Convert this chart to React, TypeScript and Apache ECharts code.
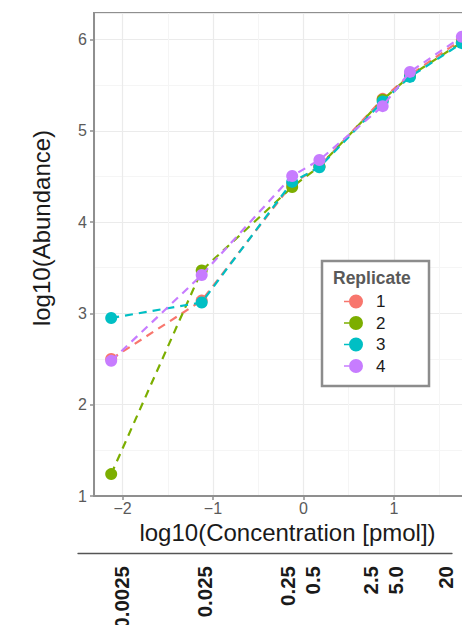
import React, { useEffect, useRef } from "react";
import * as echarts from "echarts";

// ---- data ----
const REPLICATES = ["1", "2", "3", "4"];
const COLORS = ["#F8766D", "#7CAE00", "#00BFC4", "#C77CFF"];
// log10 concentration positions of the points
const X_LOG = [-2.125, -1.125, -0.125, 0.176, 0.875, 1.176, 1.75];
const REP1 = [2.5, 3.14, 4.42, 4.61, 5.35, 5.61, 6.0];
const REP2 = [1.24, 3.47, 4.385, 4.61, 5.34, 5.6, 5.97];
const REP3 = [2.95, 3.12, 4.44, 4.6, 5.32, 5.59, 5.96];
const REP4 = [2.48, 3.42, 4.505, 4.68, 5.27, 5.645, 6.03];
const SERIES_VALUES = [REP1, REP2, REP3, REP4];
// concentration labels of the strip below the chart
const CONC_LABELS = ["0.0025", "0.025", "0.25", "0.5", "2.5", "5.0", "20"];
const CONC_VALUES = [0.0025, 0.025, 0.25, 0.5, 2.5, 5, 20];

const FONT = "'Liberation Sans', Arial, Helvetica, sans-serif";
const KEY_ICON =
  "path://M0 6.2H5V7.8H0ZM5 7A7 7 0 1 0 19 7A7 7 0 1 0 5 7Z";

function minusFmt(v: number) {
  if (v < 0) return "\u2212" + Math.abs(v);
  return String(v);
}

export default function App() {
  const ref = useRef<HTMLDivElement>(null);

  useEffect(() => {
    if (!ref.current) return;
    const chart = echarts.init(ref.current, undefined, { renderer: "svg" });
    const concPos = CONC_VALUES.map((c) => Math.log10(c));

    const series = REPLICATES.map((name, i) => ({
      name,
      type: "line",
      xAxisIndex: 0,
      yAxisIndex: 0,
      data: X_LOG.map((x, j) => [x, SERIES_VALUES[i][j]]),
      symbol: "circle",
      symbolSize: 12,
      showSymbol: true,
      itemStyle: { color: COLORS[i] },
      lineStyle: { color: COLORS[i], width: 2.2, type: [8, 6] },
      silent: true,
      z: 2 + i,
    }));

    const axisGray = "#8f8f8f";

    chart.setOption({
      animation: false,
      textStyle: { fontFamily: FONT },
      grid: [
        {
          left: 94,
          top: 13,
          width: 385.5,
          height: 483,
          show: true,
          borderColor: axisGray,
          borderWidth: 2,
          backgroundColor: "transparent",
          outerBoundsMode: "none",
          containLabel: false,
        },
        {
          left: 78,
          top: 540,
          width: 374,
          height: 13,
          outerBoundsMode: "none",
          containLabel: false,
        },
      ],
      xAxis: [
        {
          type: "value",
          gridIndex: 0,
          min: -2.315,
          max: 1.945,
          splitNumber: 5,
          axisLine: { show: true, onZero: false, lineStyle: { color: axisGray, width: 2 } },
          axisTick: { show: true, length: 4, lineStyle: { color: axisGray, width: 1.5 } },
          axisLabel: {
            showMinLabel: false,
            showMaxLabel: false,
            fontSize: 16,
            color: "#5a5a5a",
            margin: 4,
            fontFamily: FONT,
            formatter: (v: number) => minusFmt(v),
          },
          splitLine: { show: true, lineStyle: { color: "#ebebeb", width: 1.2 } },
          minorTick: { show: false, splitNumber: 2 },
          minorSplitLine: { show: true, lineStyle: { color: "#f5f5f5", width: 1 } },
        },
        {
          type: "value",
          gridIndex: 1,
          min: -3.131,
          max: 1.375,
          position: "bottom",
          axisLine: { show: true, onZero: false, lineStyle: { color: "#555555", width: 1.3 } },
          axisTick: { show: false },
          splitLine: { show: false },
          axisLabel: {
            customValues: concPos,
            rotate: 90,
            fontSize: 20.5,
            fontWeight: "bold",
            color: "#1a1a1a",
            margin: 13,
            fontFamily: FONT,
            showMinLabel: true,
            showMaxLabel: true,
            hideOverlap: false,
            formatter: (v: number) => {
              let best = 0;
              let bd = Infinity;
              concPos.forEach((p, k) => {
                const d = Math.abs(p - v);
                if (d < bd) {
                  bd = d;
                  best = k;
                }
              });
              return CONC_LABELS[best];
            },
          },
        },
      ],
      yAxis: [
        {
          type: "value",
          gridIndex: 0,
          min: 1,
          max: 6.29,
          splitNumber: 5,
          axisLine: { show: true, onZero: false, lineStyle: { color: axisGray, width: 2 } },
          axisTick: { show: true, length: 4, lineStyle: { color: axisGray, width: 1.5 } },
          axisLabel: {
            showMaxLabel: false,
            fontSize: 16,
            color: "#5a5a5a",
            margin: 7,
            fontFamily: FONT,
          },
          splitLine: { show: true, lineStyle: { color: "#ebebeb", width: 1.2 } },
          minorTick: { show: false, splitNumber: 2 },
          minorSplitLine: { show: true, lineStyle: { color: "#f5f5f5", width: 1 } },
        },
        { type: "value", gridIndex: 1, min: 0, max: 1, show: false },
      ],
      legend: {
        orient: "vertical",
        left: 344,
        top: 293,
        padding: 0,
        itemWidth: 19,
        itemHeight: 14,
        itemGap: 4.5,
        selectedMode: false,
        z: 20,
        data: REPLICATES.map((n) => ({ name: n, icon: KEY_ICON })),
        textStyle: {
          fontSize: 17,
          color: "#1a1a1a",
          fontFamily: FONT,
          padding: [0, 0, 0, 8],
        },
      },
      graphic: [
        {
          type: "rect",
          z: 10,
          shape: { x: 322, y: 261, width: 107, height: 125 },
          style: { fill: "#ffffff", stroke: "#8c8c8c", lineWidth: 2.5 },
        },
        {
          type: "text",
          z: 21,
          x: 333,
          y: 277.5,
          style: {
            text: "Replicate",
            fontSize: 17.5,
            fontWeight: "bold",
            fontFamily: FONT,
            fill: "#595959",
            align: "left",
            verticalAlign: "middle",
            textAlign: "left",
            textVerticalAlign: "middle",
          },
        },
        {
          type: "text",
          z: 21,
          x: 41,
          y: 228,
          rotation: Math.PI / 2,
          style: {
            text: "log10(Abundance)",
            fontSize: 24,
            fontFamily: FONT,
            fill: "#1a1a1a",
            align: "center",
            verticalAlign: "middle",
            textAlign: "center",
            textVerticalAlign: "middle",
          },
        },
        {
          type: "text",
          z: 21,
          x: 287.5,
          y: 532,
          style: {
            text: "log10(Concentration [pmol])",
            fontSize: 24,
            fontFamily: FONT,
            fill: "#1a1a1a",
            align: "center",
            verticalAlign: "middle",
            textAlign: "center",
            textVerticalAlign: "middle",
          },
        },
      ],
      series,
    });

    return () => {
      chart.dispose();
    };
  }, []);

  return (
    <div
      ref={ref}
      style={{ position: "fixed", left: 0, top: 0, width: 480, height: 625, background: "#fff" }}
    />
  );
}
